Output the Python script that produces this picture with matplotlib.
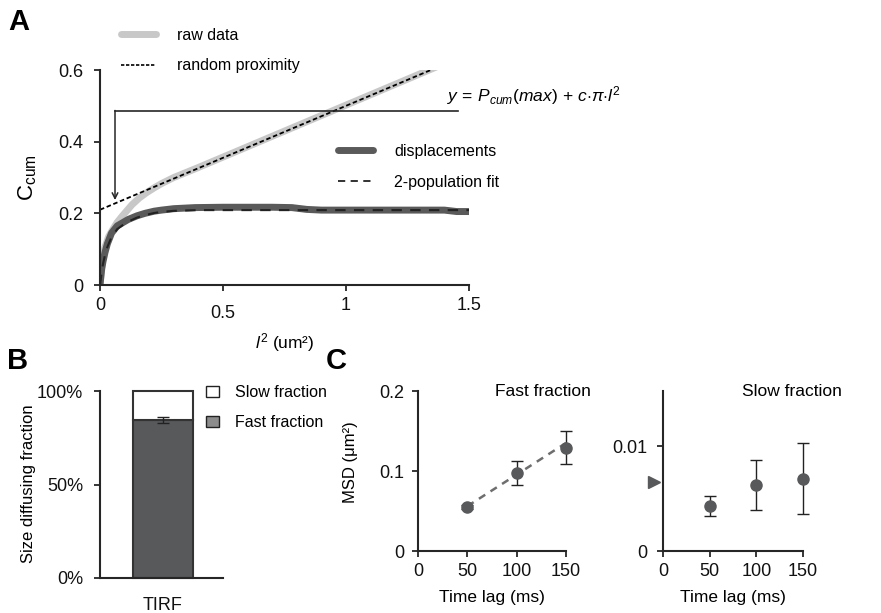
import matplotlib
matplotlib.use('Agg')
import matplotlib.pyplot as plt
from matplotlib.lines import Line2D
from matplotlib.patches import Patch

plt.rcParams['font.family'] = ['Liberation Sans', 'DejaVu Sans']
plt.rcParams['mathtext.fontset'] = 'custom'
plt.rcParams['mathtext.rm'] = 'Liberation Sans'
plt.rcParams['mathtext.it'] = 'Liberation Sans:italic'
plt.rcParams['mathtext.bf'] = 'Liberation Sans:bold'

# ---- panel A data ----
raw_x = [0, 0.005, 0.01, 0.02, 0.035, 0.05, 0.07, 0.09, 0.11, 0.13, 0.16, 0.19,
         0.22, 0.25, 0.3, 0.35, 0.4, 0.5, 0.6, 0.7, 0.8, 0.9, 1.0, 1.1, 1.2, 1.3, 1.4, 1.5]
raw_y = [0, 0.04, 0.07, 0.105, 0.135, 0.153, 0.175, 0.192, 0.208, 0.224, 0.243, 0.258,
         0.271, 0.283, 0.3, 0.314, 0.328, 0.357, 0.386, 0.415, 0.444, 0.473, 0.502,
         0.531, 0.56, 0.589, 0.618, 0.647]

prox_x = [0, 1.5]
prox_y = [0.21, 0.645]

disp_x = [0, 0.003, 0.007, 0.012, 0.02, 0.03, 0.047, 0.07, 0.09, 0.115, 0.15, 0.183,
          0.22, 0.25, 0.3, 0.386, 0.5, 0.6, 0.7, 0.78, 0.84, 0.9, 1.0, 1.1, 1.2, 1.3,
          1.4, 1.45, 1.5]
disp_y = [0, 0.02, 0.045, 0.065, 0.09, 0.115, 0.145, 0.165, 0.173, 0.183, 0.193, 0.2,
          0.206, 0.209, 0.213, 0.216, 0.217, 0.217, 0.217, 0.216, 0.211, 0.209, 0.209,
          0.209, 0.209, 0.209, 0.209, 0.205, 0.205]

fit_x = [0, 0.003, 0.007, 0.012, 0.02, 0.03, 0.047, 0.07, 0.09, 0.115, 0.15, 0.183,
         0.22, 0.25, 0.3, 0.4, 0.6, 0.8, 1.0, 1.2, 1.4, 1.5]
fit_y = [0, 0.015, 0.038, 0.058, 0.083, 0.106, 0.134, 0.156, 0.166, 0.177, 0.188, 0.195,
         0.201, 0.204, 0.207, 0.209, 0.209, 0.209, 0.209, 0.209, 0.209, 0.209]

# ---- panel B data ----
methods = ['TIRF']
fast_frac = [84.5]
slow_frac = [15.5]
fast_err = [1.5]

# ---- panel C data ----
lags = [50, 100, 150]
fast_msd = [0.055, 0.0975, 0.129]
fast_msd_err = [0.003, 0.0145, 0.0205]
fast_fit_t = [50, 150]
fast_fit_msd = [0.056, 0.135]
slow_msd = [0.0043, 0.0063, 0.0069]
slow_msd_err = [0.00093, 0.0024, 0.0034]
slow_ref_msd = 0.0066

W, H = 881, 613
fig = plt.figure(figsize=(8.81, 6.13), dpi=100)

def box(l, t, r, b):
    return [l / W, 1 - b / H, (r - l) / W, (b - t) / H]

axcol = '#262626'
dark = '#58595b'

def style(ax):
    for s in ['top', 'right']:
        ax.spines[s].set_visible(False)
    for s in ['left', 'bottom']:
        ax.spines[s].set_color(axcol)
        ax.spines[s].set_linewidth(1.5)
    ax.tick_params(direction='out', length=4, width=1.3, color=axcol,
                   labelsize=13, labelcolor='#111111')

# ================= A =================
axA = fig.add_axes(box(100, 70, 469, 285))
style(axA)
axA.plot(raw_x, raw_y, color='#c8c8c8', lw=5, solid_capstyle='butt')
axA.plot(prox_x, prox_y, color='black', lw=1.3, dashes=(2.5, 1.5))
axA.plot(disp_x, disp_y, color='#5a5a5a', lw=5, solid_capstyle='butt')
axA.plot(fit_x, fit_y, color='#222222', lw=1.5, dashes=(5, 4))
# annotation bracket and arrow
axA.plot([0.061, 1.455], [0.486, 0.486], color=axcol, lw=1.2, clip_on=False)
axA.annotate('', xy=(0.061, 0.237), xytext=(0.061, 0.487),
             arrowprops=dict(arrowstyle='->', color=axcol, lw=1.1,
                             shrinkA=0, shrinkB=0))
axA.set_xlim(0, 1.5)
axA.set_ylim(0, 0.6)
axA.set_xticks([0, 0.5, 1, 1.5])
axA.set_xticklabels(['0', '0.5', '1', '1.5'])
axA.set_yticks([0, 0.2, 0.4, 0.6])
axA.set_yticklabels(['0', '0.2', '0.4', '0.6'])
axA.tick_params(axis='x', pad=5)
axA.tick_params(axis='y', pad=8)
axA.xaxis.get_major_ticks()[1].set_pad(10.5)
axA.set_ylabel(r'C$_{\mathregular{cum}}$', fontsize=16, va='center')
axA.yaxis.set_label_coords(-0.195, 0.5)
axA.set_xlabel(r'$l^2$ (um²)', fontsize=12.5, va='center')
axA.xaxis.set_label_coords(0.501, -0.27)

fig.legend(handles=[Line2D([], [], color='#c8c8c8', lw=5, solid_capstyle='round'),
                    Line2D([], [], color='black', lw=1.2, dashes=(2, 1))],
           labels=['raw data', 'random proximity'],
           loc='upper left', bbox_to_anchor=(121 / W, 1 - 28 / H),
           frameon=False, fontsize=11.5, handlelength=2.2,
           handletextpad=1.3, labelspacing=0.95, borderpad=0, borderaxespad=0)
fig.legend(handles=[Line2D([], [], color='#5a5a5a', lw=5, solid_capstyle='round'),
                    Line2D([], [], color='#222222', lw=1.3, dashes=(4, 3))],
           labels=['displacements', '2-population fit'],
           loc='upper left', bbox_to_anchor=(338 / W, 1 - 144 / H),
           frameon=False, fontsize=11.5, handlelength=2.2,
           handletextpad=1.3, labelspacing=1.0, borderpad=0, borderaxespad=0)

fig.text(447 / W, 1 - 96 / H, r'$y\,=\,P_{cum}(max)\,+\,c{\cdot}\pi{\cdot}l^2$',
         fontsize=12.5, ha='left', va='center')

# ================= B =================
axB = fig.add_axes(box(100, 391, 223, 578))
style(axB)
axB.bar(methods, fast_frac, width=1.0, color=dark, edgecolor='#333333', lw=1.5,
        clip_on=False, zorder=2)
axB.bar(methods, slow_frac, bottom=fast_frac, width=1.0, color='white',
        edgecolor='#333333', lw=1.5, clip_on=False, zorder=2)
axB.errorbar(methods, fast_frac, yerr=fast_err, fmt='none', ecolor='#222222',
             elinewidth=1, capsize=4, capthick=1, zorder=3)
axB.set_xlim(-1.05, 1.0)
axB.set_ylim(0, 100)
axB.set_yticks([0, 50, 100])
axB.set_yticklabels(['0%', '50%', '100%'])
axB.tick_params(axis='y', pad=8)
axB.tick_params(axis='x', length=0, pad=14)
axB.set_ylabel('Size diffusing fraction', fontsize=12, va='center')
axB.yaxis.set_label_coords(-0.585, 0.503)
fig.legend(handles=[Patch(facecolor='white', edgecolor='#222222', lw=1),
                    Patch(facecolor='#8c8c8c', edgecolor='#222222', lw=1)],
           labels=['Slow fraction', 'Fast fraction'],
           loc='upper left', bbox_to_anchor=(206 / W, 1 - 385 / H),
           frameon=False, fontsize=11.5, handlelength=0.8, handleheight=0.7,
           handletextpad=1.0, labelspacing=0.95, borderpad=0, borderaxespad=0)

# ================= C left =================
axC1 = fig.add_axes(box(418, 391, 566, 551))
style(axC1)
axC1.plot(fast_fit_t, fast_fit_msd, color='#6e6e6e', lw=1.8, dashes=(3, 2.5))
axC1.errorbar(lags, fast_msd, yerr=fast_msd_err, fmt='o', color=dark, ms=8,
              ecolor='#222222', elinewidth=1, capsize=4, capthick=1, clip_on=False)
axC1.set_xlim(0, 150)
axC1.set_ylim(0, 0.2)
axC1.set_xticks([0, 50, 100, 150])
axC1.set_yticks([0, 0.1, 0.2])
axC1.set_yticklabels(['0', '0.1', '0.2'])
axC1.tick_params(axis='y', pad=6)
axC1.tick_params(axis='x', pad=5)
axC1.set_ylabel('MSD (μm²)', fontsize=12, va='center')
axC1.yaxis.set_label_coords(-0.459, 0.554)
axC1.set_xlabel('Time lag (ms)', fontsize=12.5, va='center')
axC1.xaxis.set_label_coords(0.5, -0.289)
axC1.text(0.845, 1.0, 'Fast fraction', transform=axC1.transAxes, fontsize=12.5,
          ha='center', va='center')

# ================= C right =================
axC2 = fig.add_axes(box(663, 391, 803, 551))
style(axC2)
axC2.errorbar(lags, slow_msd, yerr=slow_msd_err, fmt='o', color=dark, ms=8,
              ecolor='#222222', elinewidth=1, capsize=4, capthick=1, clip_on=False)
axC2.plot([-10], [slow_ref_msd], marker='>', color=dark, ms=8, ls='none', clip_on=False)
axC2.set_xlim(0, 150)
axC2.set_ylim(0, 0.0153)
axC2.set_xticks([0, 50, 100, 150])
axC2.set_yticks([0, 0.01])
axC2.set_yticklabels(['0', '0.01'])
axC2.tick_params(axis='y', pad=7)
axC2.tick_params(axis='x', pad=5)
axC2.set_xlabel('Time lag (ms)', fontsize=12.5, va='center')
axC2.xaxis.set_label_coords(0.5, -0.289)
axC2.text(0.92, 1.0, 'Slow fraction', transform=axC2.transAxes, fontsize=12.5,
          ha='center', va='center')

# panel letters
for lab, px, py in [('A', 19, 22), ('B', 18, 361), ('C', 336, 361)]:
    fig.text(px / W, 1 - py / H, lab, fontsize=21, fontweight='bold',
             ha='center', va='center')

fig.savefig('out.png', dpi=100)
